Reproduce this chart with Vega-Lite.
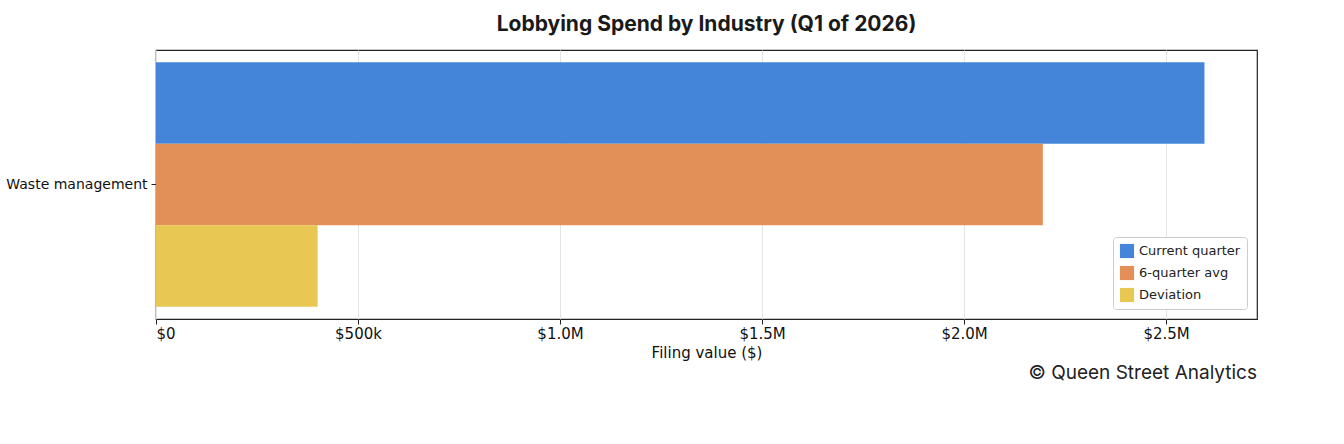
{
  "$schema": "https://vega.github.io/schema/vega-lite/v6.json",
  "background": "white",
  "padding": {"left": 5, "top": 14, "right": 20, "bottom": 5},
  "config": {"font": "DejaVu Sans", "view": {"stroke": "#222", "strokeWidth": 1.2}},
  "title": {"text": "Lobbying Spend by Industry (Q1 of 2026)", "font": "Inter", "fontSize": 21, "fontWeight": "bold", "color": "#1a1a1a", "offset": 14, "anchor": "middle", "frame": "group"},
  "resolve": {"scale": {"color": "independent"}, "legend": {"color": "independent"}},
  "vconcat": [
    {
      "width": 1101,
      "height": 269,
      "title": {"text": "© Queen Street Analytics", "orient": "bottom", "anchor": "end", "font": "Inter", "fontSize": 19, "fontWeight": "normal", "color": "#222", "offset": 4},
      "data": {"values": [
        {"industry": "Waste management", "series": "Current quarter", "value": 2595000},
        {"industry": "Waste management", "series": "6-quarter avg", "value": 2195000},
        {"industry": "Waste management", "series": "Deviation", "value": 400000}
      ]},
      "mark": {"type": "bar", "opacity": 0.95},
      "encoding": {
        "y": {"field": "industry", "type": "nominal", "title": null,
          "scale": {"paddingInner": 0, "paddingOuter": 0.05},
          "axis": {"labelFontSize": 14, "labelColor": "#111", "tickColor": "#222", "domain": false, "labelPadding": 4}},
        "yOffset": {"field": "series", "sort": ["Current quarter", "6-quarter avg", "Deviation"], "scale": {"paddingInner": 0}},
        "x": {"field": "value", "type": "quantitative", "title": "Filing value ($)",
          "scale": {"domain": [0, 2725000], "nice": false},
          "axis": {"values": [0, 500000, 1000000, 1500000, 2000000, 2500000],
            "labelExpr": "datum.value == 0 ? '$0' : datum.value < 1000000 ? '$' + format(datum.value/1000, 'd') + 'k' : '$' + format(datum.value/1000000, '.1f') + 'M'",
            "labelFontSize": 15, "labelColor": "#111", "titleFontSize": 15, "titleFontWeight": "normal", "titleColor": "#111",
            "grid": true, "gridColor": "#e4e4e4", "domain": false, "tickColor": "#222", "titlePadding": 4}},
        "color": {"field": "series", "type": "nominal", "sort": ["Current quarter", "6-quarter avg", "Deviation"],
          "scale": {"domain": ["Current quarter", "6-quarter avg", "Deviation"], "range": ["#3a7ed8", "#e08a4f", "#e8c44a"]},
          "legend": {"title": null, "orient": "bottom-right", "offset": 10, "symbolType": "square", "symbolSize": 200,
            "labelFontSize": 13, "labelColor": "#222", "strokeColor": "#ccc", "fillColor": "white", "padding": 6, "cornerRadius": 3, "rowPadding": 6}}
      }
    }
  ]
}
